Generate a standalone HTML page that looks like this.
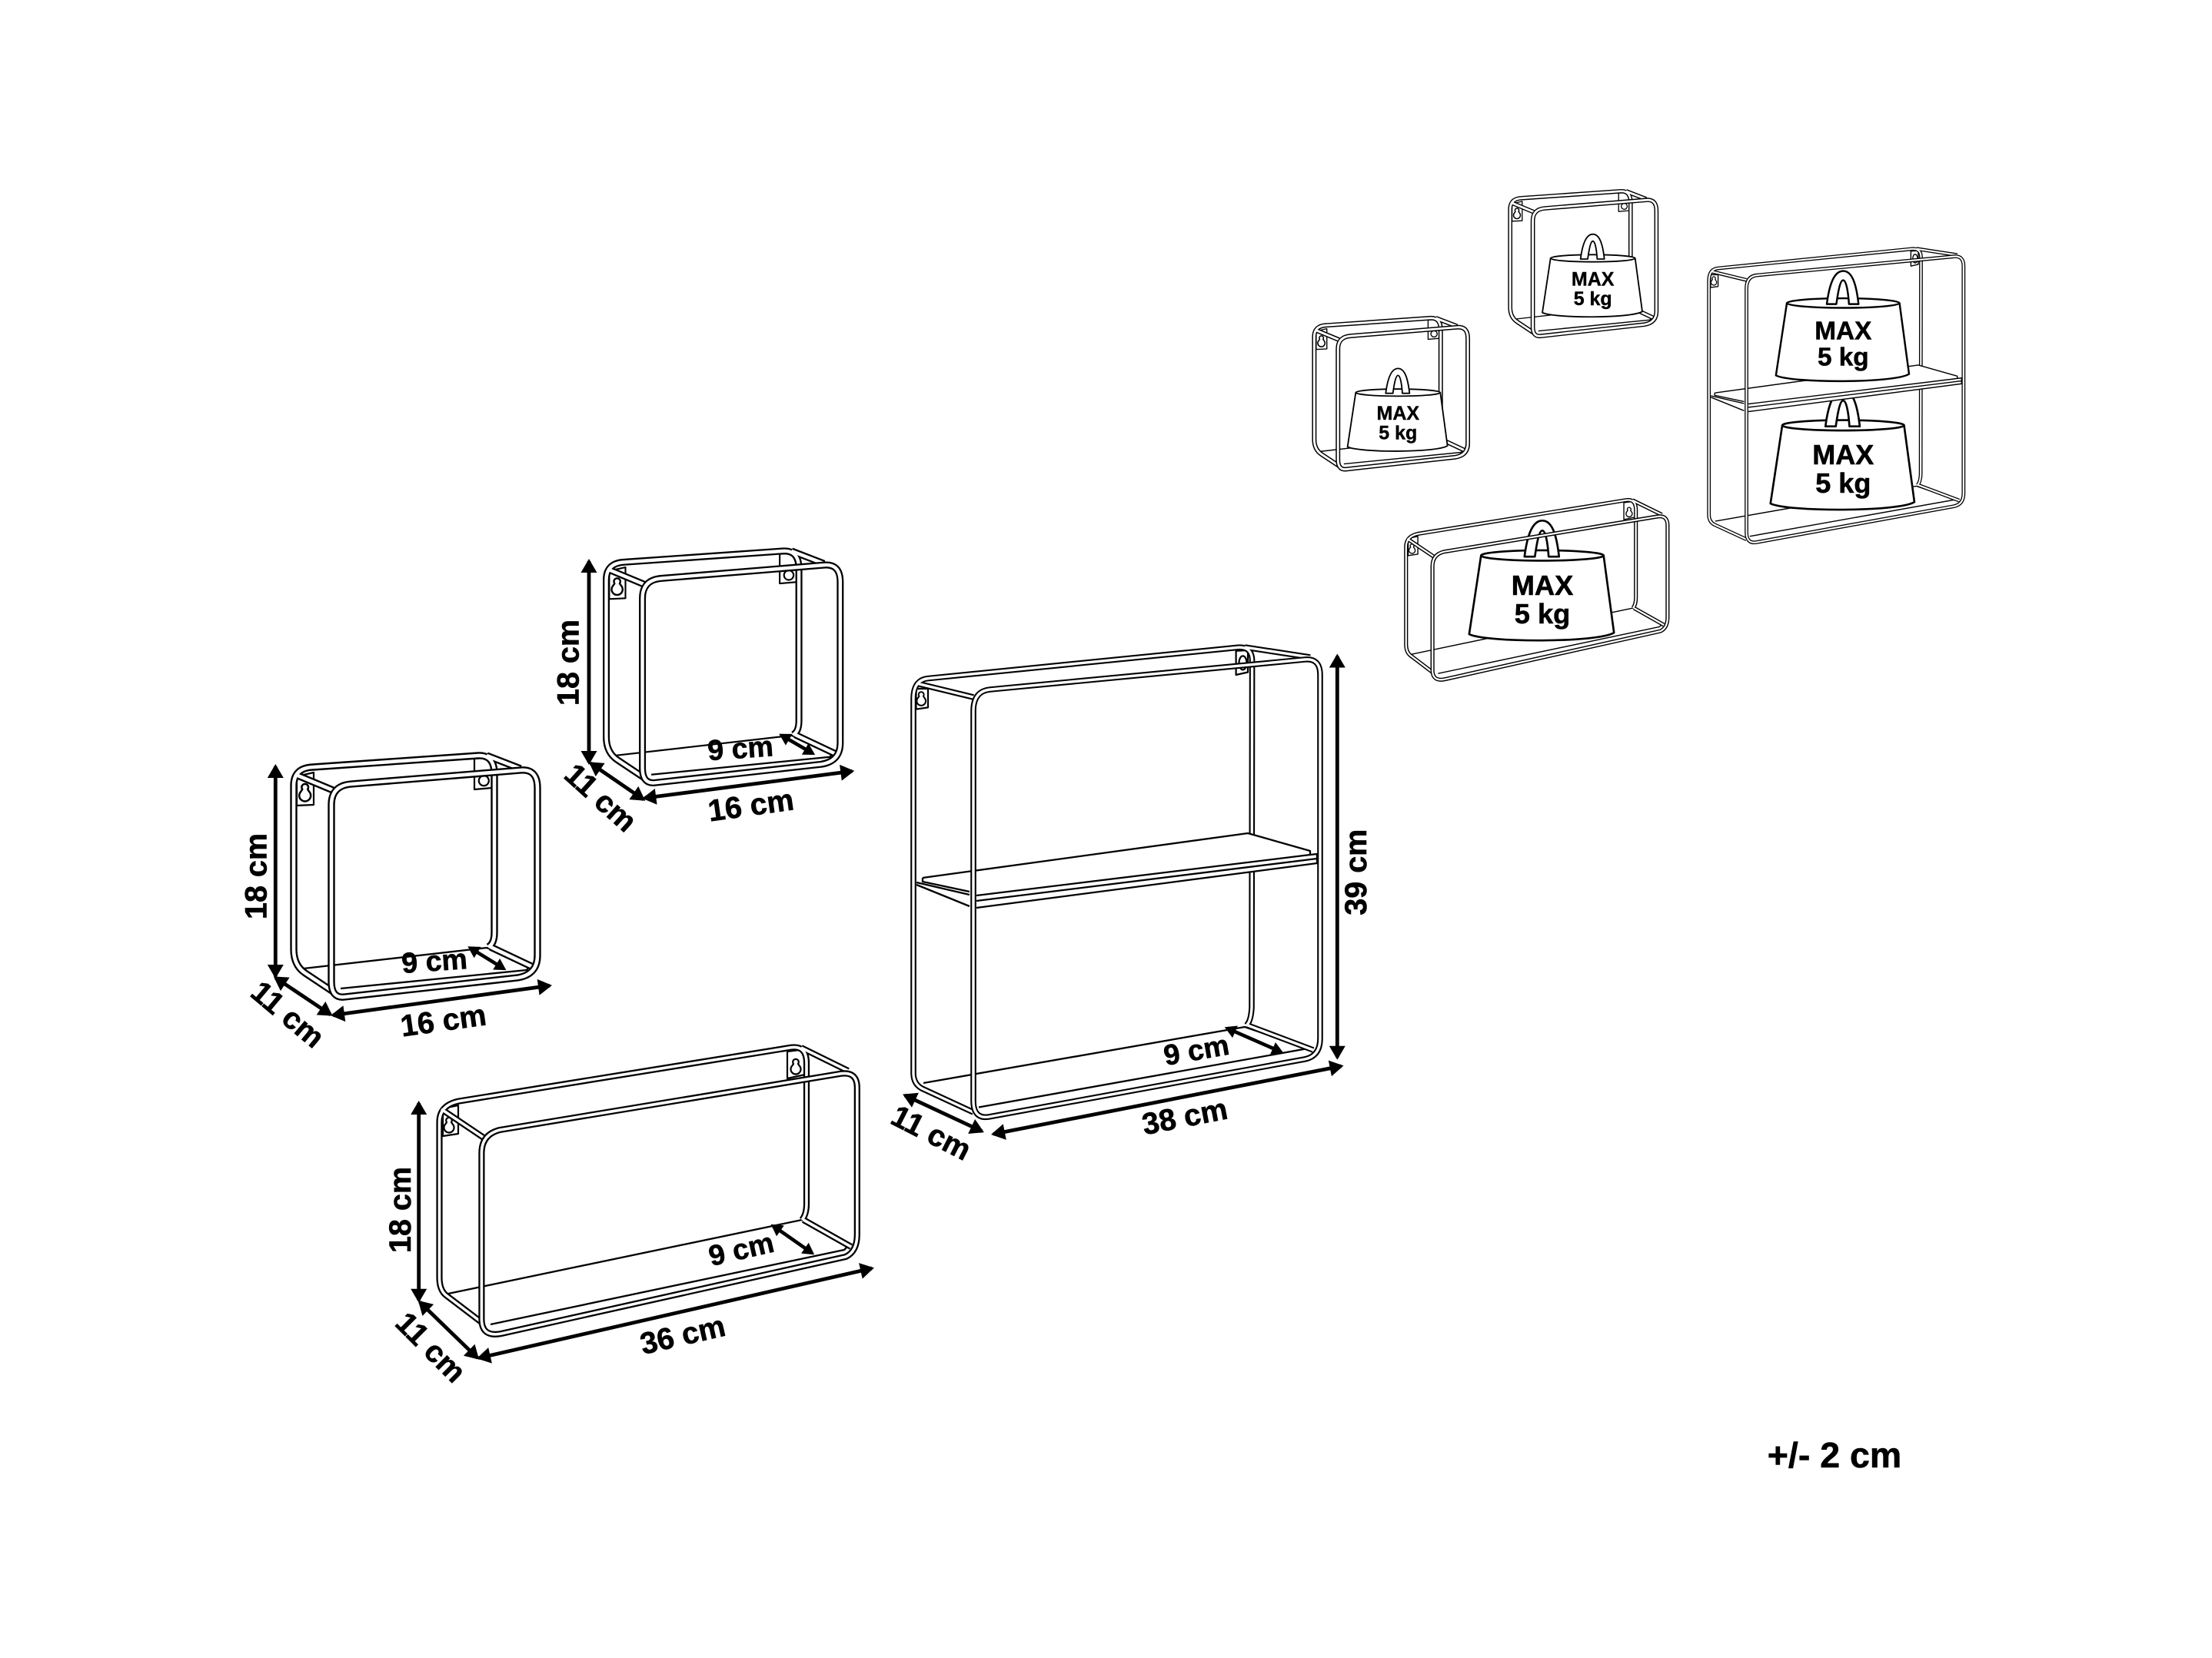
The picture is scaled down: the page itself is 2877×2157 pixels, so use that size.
<!DOCTYPE html>
<html>
<head>
<meta charset="utf-8">
<style>
html,body{margin:0;padding:0;background:#fff}
svg{display:block}
text{font-family:"Liberation Sans",sans-serif;font-weight:700;fill:#000;text-anchor:middle}
.d{font-size:39.5px;stroke:#000;stroke-width:.6px}
.e{font-size:37.5px;stroke:#000;stroke-width:.6px}
.b{stroke:#000;fill:none;stroke-linejoin:round}
.w{stroke:#fff;fill:none;stroke-linejoin:round}
.n{stroke:#000;stroke-width:2.3;fill:none;stroke-linejoin:round}
.f{stroke:#000;stroke-width:2.2;fill:#fff;stroke-linejoin:round}
.a{stroke:#000;stroke-width:4.8;fill:none;marker-start:url(#h);marker-end:url(#h)}
.s{stroke:#000;stroke-width:4.6;fill:none;marker-start:url(#k);marker-end:url(#k)}
.wt{font-size:75px;stroke:#000;stroke-width:1.2px}
</style>
</head>
<body>
<svg xmlns="http://www.w3.org/2000/svg" width="2877" height="2157" viewBox="0 0 2877 2157">
<defs>
<marker id="h" markerUnits="userSpaceOnUse" markerWidth="20" markerHeight="22" refX="15" refY="10.5" orient="auto-start-reverse" overflow="visible"><path d="M0,0 L18,10.5 L0,21 Z" fill="#000"/></marker>
<marker id="k" markerUnits="userSpaceOnUse" markerWidth="16" markerHeight="18" refX="11" refY="8.5" orient="auto-start-reverse" overflow="visible"><path d="M0,0 L15,8.5 L0,17 Z" fill="#000"/></marker>

<path id="kh" d="M-3,-7 A3.8,3.8 0 1 1 3,-7 L4.6,-4.6 A6.5,6.5 0 1 1 -4.6,-4.6 Z"/>

<path id="cBk" d="M433,1290 L397,1266 Q382,1256 382,1235 L382,1022 Q382,999 407,998 L622,983 Q643,982 643,1007 L643,1213 Q643,1228 635,1232"/>
<path id="cR1" d="M385,1008 L433,1028"/>
<path id="cR2" d="M633,983 L677,1000"/>
<path id="cR3" d="M638,1232 L693,1258"/>
<path id="cFr" d="M431,1277 L431,1047 Q431,1022 457,1020 L677,1002 Q699,1000 699,1025 L699,1243 Q699,1268 673,1272 L448,1297 Q431,1299 431,1277 Z"/>

<g id="cubeB">
<path class="n" d="M395,1260 L633,1233 L690,1255 L685,1262 L443,1286"/>
<path class="f" d="M386,1048 L408,1047 L408,1005 L386,1010 Z"/>
<use href="#kh" class="f" transform="translate(396.7,1035) scale(1.15)"/>
<path class="f" d="M617,987 L617,1027 L640,1025 L640,985 Z"/>
<circle class="f" cx="629.3" cy="1015.7" r="6.5"/>
<g stroke-width="9.4"><use href="#cBk" class="b"/><use href="#cR1" class="b"/><use href="#cR2" class="b"/><use href="#cR3" class="b"/></g>
<g stroke-width="4.6"><use href="#cBk" class="w"/><use href="#cR1" class="w"/><use href="#cR2" class="w"/><use href="#cR3" class="w"/></g>
</g>
<g id="cubeF"><use href="#cFr" class="b" stroke-width="9.4"/><use href="#cFr" class="w" stroke-width="4.6"/></g>

<path id="lBk" d="M626,1720 L580,1685 Q571.5,1678 571.5,1662 L571.5,1460 Q571.5,1438 596,1432.7 L1029,1362.7 Q1049,1360 1049,1383 L1049,1566 Q1049,1580 1043,1587"/>
<path id="lR1" d="M574,1443 L629,1480"/>
<path id="lR2" d="M1042,1363 L1103,1393"/>
<path id="lR3" d="M1045,1587 L1107,1622"/>
<path id="lFr" d="M626.4,1716 L626.4,1500 Q626.4,1476 650,1470 L1094,1396.7 Q1114.8,1394 1114.8,1415 L1114.8,1606 Q1114.8,1628 1100,1635 L652,1735 Q626.4,1740 626.4,1716 Z"/>
<g id="longB">
<path class="n" d="M583,1683 L1043,1587 L1103,1621 L1098,1626 L638,1723"/>
<path class="f" d="M576,1478 L596,1475 L596,1438 L576,1442 Z"/>
<use href="#kh" class="f" transform="translate(584,1467) scale(1)"/>
<path class="f" d="M1024,1368 L1024,1403 L1047,1398 L1047,1365 Z"/>
<use href="#kh" class="f" transform="translate(1035,1391) scale(1)"/>
<g stroke-width="8.2"><use href="#lBk" class="b"/><use href="#lR1" class="b"/><use href="#lR2" class="b"/><use href="#lR3" class="b"/></g>
<g stroke-width="3.6"><use href="#lBk" class="w"/><use href="#lR1" class="w"/><use href="#lR2" class="w"/><use href="#lR3" class="w"/></g>
</g>
<g id="longF"><use href="#lFr" class="b" stroke-width="8.2"/><use href="#lFr" class="w" stroke-width="3.6"/></g>

<path id="tBk" d="M1266,1447 L1199,1416 Q1188,1410 1188,1396 L1188,909 Q1188,884 1208,882.5 L1610,842.3 Q1628.6,841 1628.6,860 L1628,1311 Q1627,1329 1621,1334"/>
<path id="tR1" d="M1192,889 L1266,907"/>
<path id="tR2" d="M1619,842 L1704,855"/>
<path id="tR3" d="M1623,1334 L1708,1366"/>
<path id="tFr" d="M1266,1432 L1266,925 Q1266,899 1288,897 L1697,858 Q1717,856 1717,878 L1717,1351 Q1717,1374 1697,1378 L1286,1453 Q1266,1456 1266,1432 Z"/>
<g id="tallB">
<path class="n" d="M1201,1409 L1619,1336 L1701,1364 L1273,1440.5"/>
<path class="f" d="M1191.5,922.7 L1207,920.4 L1207,896 L1191.5,896 Z"/>
<use href="#kh" class="f" transform="translate(1198.2,912) scale(.9)"/>
<path class="f" d="M1607.6,846.8 L1607.6,878 L1623,874.5 L1623,846 Z"/>
<ellipse class="f" cx="1616.5" cy="862.4" rx="5" ry="9"/>
<g stroke-width="7.6"><use href="#tBk" class="b"/><use href="#tR1" class="b"/><use href="#tR2" class="b"/><use href="#tR3" class="b"/></g>
<g stroke-width="3.4"><use href="#tBk" class="w"/><use href="#tR1" class="w"/><use href="#tR2" class="w"/><use href="#tR3" class="w"/></g>
</g>
<g id="tallM">
<path d="M1200,1142 L1623,1084 L1704,1107 L1713,1111 L1713,1123 L1270,1181 L1261,1179 L1192,1151 L1192,1148 L1200,1146 Z" fill="#fff"/>
<path class="n" d="M1200,1142 L1623,1084 L1704,1107 L1704,1112 L1270,1165"/>
<path class="n" d="M1200,1142 L1200,1147 L1261,1160"/>
<path class="n" d="M1704,1112 L1713,1111 L1713,1123 L1270,1181"/>
<path class="n" d="M1270,1172 L1713,1117"/>
<path class="n" d="M1192,1148 L1261,1164"/>
<path class="n" d="M1192,1151 L1261,1179"/>
</g>
<g id="tallF"><use href="#tFr" class="b" stroke-width="7.6"/><use href="#tFr" class="w" stroke-width="3.4"/></g>

<g id="wt">
<path d="M-165,0 L-197,212 C-150,235 150,235 193,208 L165,0 Z" fill="#fff" stroke="#000" stroke-width="5.5" stroke-linejoin="round"/>
<ellipse cx="0" cy="0" rx="165" ry="14" fill="#fff" stroke="#000" stroke-width="5.5"/>
<path d="M-48,3 C-40,-60 -25,-94 0,-94 C25,-94 38,-60 45,3 L17,3 C14,-40 8,-67 0,-67 C-8,-67 -14,-40 -20,3 Z" fill="#fff" stroke="#000" stroke-width="5.5" stroke-linejoin="round"/>
</g>
</defs>

<rect width="2877" height="2157" fill="#fff"/>

<!-- Shelf 1 -->
<use href="#cubeB"/><use href="#cubeF"/>
<path class="a" d="M358.3,997 L358.3,1270"/>
<path class="a" d="M358.3,1272 L430,1320"/>
<path class="a" d="M433,1320.7 L715,1282.3"/>
<path class="s" d="M611.7,1233.3 L655,1260"/>
<text class="d" transform="translate(333.3,1140) rotate(-90)" y="13">18 cm</text>
<text class="d" transform="translate(374,1320) rotate(40)" y="13">11 cm</text>
<text class="d" transform="translate(576.7,1328) rotate(-8)" y="13">16 cm</text>
<text class="e" transform="translate(565,1250) rotate(-4)" y="13">9 cm</text>

<!-- Shelf 2 -->
<g transform="matrix(.96 0 0 .96 421.8 -226.8)"><use href="#cubeB"/><use href="#cubeF"/></g>
<path class="a" d="M766,730 L766,992"/>
<path class="a" d="M768.3,993 L836.7,1040"/>
<path class="a" d="M838.3,1038.3 L1108.3,1003.3"/>
<path class="s" d="M1016.7,956.7 L1056.7,980"/>
<text class="d" transform="translate(739.3,862) rotate(-90)" y="13">18 cm</text>
<text class="d" transform="translate(781,1038) rotate(42)" y="13">11 cm</text>
<text class="d" transform="translate(976.7,1048) rotate(-8)" y="13">16 cm</text>
<text class="e" transform="translate(963,973.3) rotate(-4)" y="13">9 cm</text>

<!-- Long shelf -->
<use href="#longB"/><use href="#longF"/>
<path class="a" d="M544.7,1435 L544.7,1691.7"/>
<path class="a" d="M546,1694 L621,1766.7"/>
<path class="a" d="M622.9,1766.7 L1134,1650"/>
<path class="s" d="M1005.9,1595 L1055.9,1630"/>
<text class="d" transform="translate(521,1574) rotate(-90)" y="13">18 cm</text>
<text class="d" transform="translate(560,1753) rotate(45)" y="13">11 cm</text>
<text class="d" transform="translate(888,1737) rotate(-13)" y="13">36 cm</text>
<text class="e" transform="translate(964,1625) rotate(-13)" y="13">9 cm</text>

<!-- Tall shelf -->
<use href="#tallB"/><use href="#tallM"/><use href="#tallF"/>
<path class="a" d="M1739.3,853.5 L1739.3,1375.8"/>
<path class="a" d="M1176.8,1424.9 L1277.2,1471.8"/>
<path class="a" d="M1292,1475.4 L1744.6,1387"/>
<path class="s" d="M1596.4,1337.9 L1665.6,1368.2"/>
<text class="d" transform="translate(1763.8,1134.7) rotate(-90)" y="13">39 cm</text>
<text class="d" transform="translate(1211,1474) rotate(27)" y="13">11 cm</text>
<text class="d" transform="translate(1541,1453) rotate(-11)" y="13">38 cm</text>
<text class="e" transform="translate(1556,1366) rotate(-10)" y="13">9 cm</text>

<!-- Small cube A -->
<g transform="matrix(.63 0 0 .626 1468.7 -201.5)"><use href="#cubeB"/></g>
<g transform="translate(1818.3,510.7) scale(.3333)"><use href="#wt"/><text class="wt" y="106">MAX</text><text class="wt" y="183">5 kg</text></g>
<g transform="matrix(.63 0 0 .626 1468.7 -201.5)"><use href="#cubeF"/></g>

<!-- Small cube B -->
<g transform="matrix(.6 0 0 .6 1735 -341)"><use href="#cubeB"/></g>
<g transform="translate(2071.7,336) scale(.3333)"><use href="#wt"/><text class="wt" y="106">MAX</text><text class="wt" y="183">5 kg</text></g>
<g transform="matrix(.6 0 0 .6 1735 -341)"><use href="#cubeF"/></g>

<!-- Long weighted -->
<g transform="matrix(.626 0 0 .626 1471 -202.4)"><use href="#longB"/></g>
<g transform="translate(2006,722.7) scale(.483)"><use href="#wt"/><text class="wt" y="106">MAX</text><text class="wt" y="183">5 kg</text></g>
<g transform="matrix(.626 0 0 .626 1471 -202.4)"><use href="#longF"/></g>

<!-- Tall weighted -->
<g transform="matrix(.626 0 0 .625 1479 -202.6)"><use href="#tallB"/></g>
<g transform="translate(2397.3,553.3) scale(.48)"><use href="#wt"/><text class="wt" y="106">MAX</text><text class="wt" y="183">5 kg</text></g>
<g transform="matrix(.626 0 0 .625 1479 -202.6)"><use href="#tallM"/></g>
<g transform="translate(2397.3,394.3) scale(.444)"><use href="#wt"/><text class="wt" y="106">MAX</text><text class="wt" y="183">5 kg</text></g>
<g transform="matrix(.626 0 0 .625 1479 -202.6)"><use href="#tallF"/></g>

<text x="2386" y="1909" style="font-size:46.5px;stroke:#000;stroke-width:.6px">+/- 2 cm</text>
</svg>
</body>
</html>
